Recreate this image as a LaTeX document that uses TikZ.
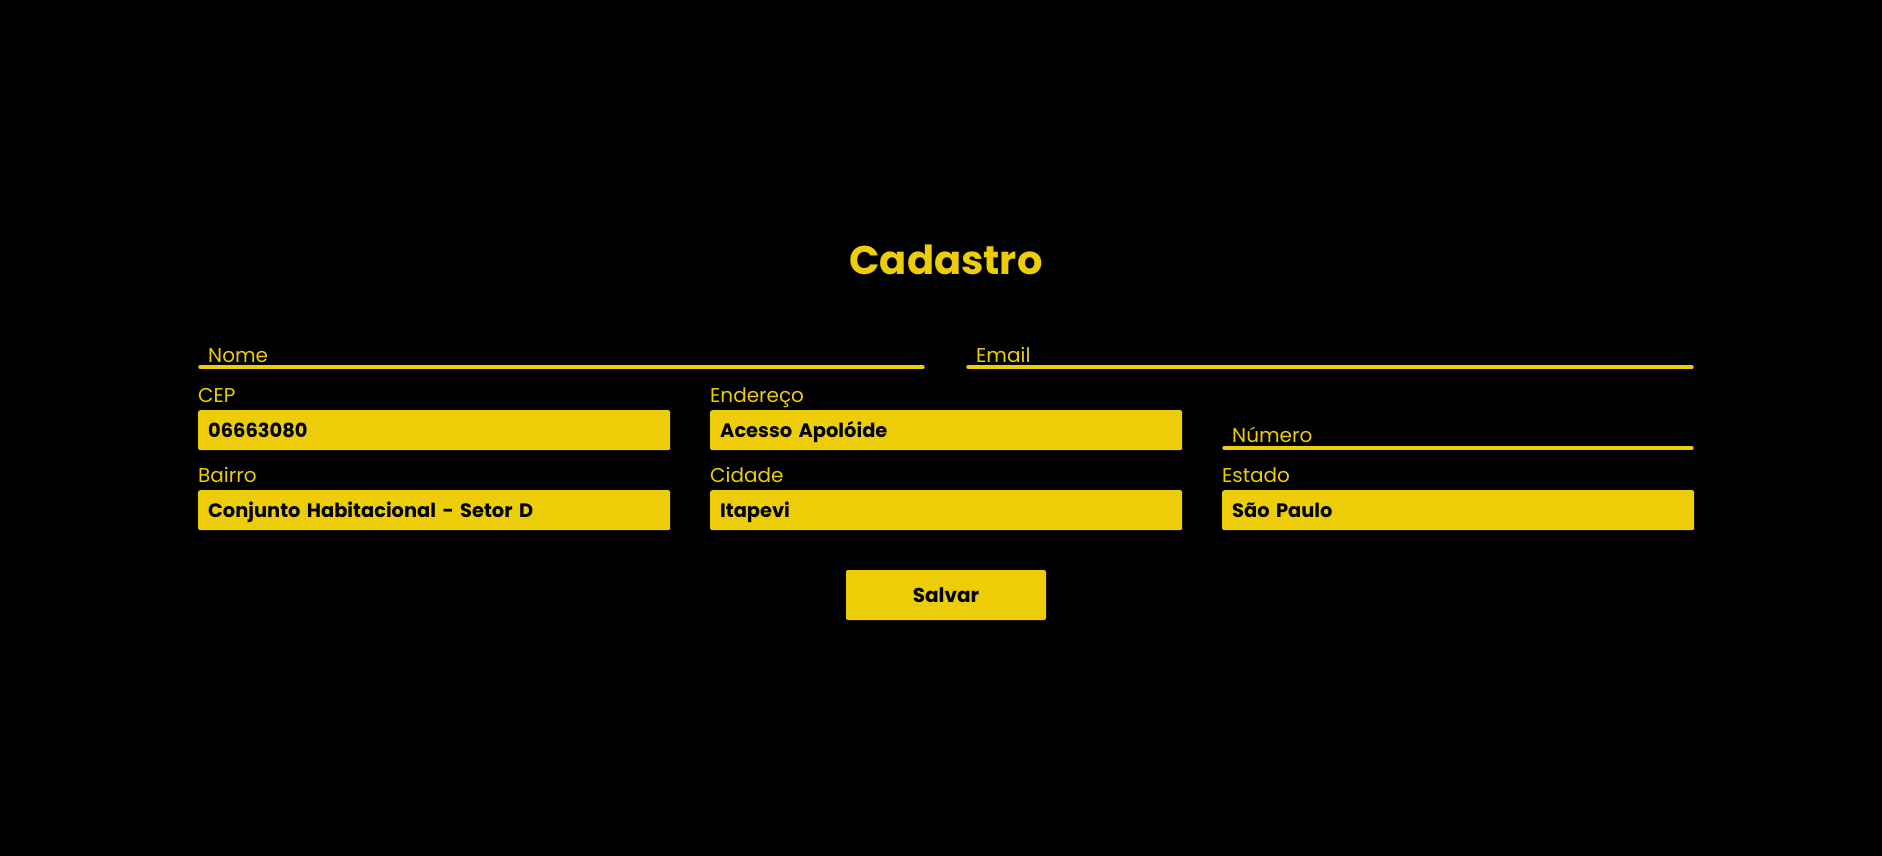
\documentclass[tikz,border=0pt]{standalone}
\usepackage{fontspec}
\setmainfont{Poppins}
\definecolor{amarelo}{RGB}{236,205,8}
\begin{document}
\begin{tikzpicture}[x=1pt,y=-1pt]
        \tikzstyle{rotulo}=[text=amarelo, anchor=base west, inner sep=0pt, font=\fontsize{20}{24}\selectfont]
        \tikzstyle{campo}=[fill=amarelo, rounded corners=2pt, anchor=north west, inner xsep=10pt, inner ysep=0pt, minimum height=40pt, text width=452pt, text height=14pt, text depth=0pt, font=\fontsize{19.4}{24}\selectfont\bfseries]
        \tikzstyle{linha}=[draw=amarelo, line width=3.4pt, line cap=round]
        \fill[black] (0,0) rectangle (1882,856);
        \node[text=amarelo, anchor=base, font=\fontsize{40}{48}\selectfont\bfseries] (titulo) at (946,274) {Cadastro};
        % primeira linha: campos sublinhados
        \node[rotulo] (nome) at (208,362) {Nome};
        \coordinate (nomeA) at (200,367); \coordinate (nomeB) at (923,367);
        \draw[linha] (nomeA) -- (nomeB);
        \node[rotulo] (email) at (976,362) {Email};
        \coordinate (emailA) at (968,367); \coordinate (emailB) at (1692,367);
        \draw[linha] (emailA) -- (emailB);
        % endereco
        \node[rotulo] (lcep) at (198,402) {CEP};
        \node[campo] (cep) at (198,410) {06663080};
        \node[rotulo] (lendereco) at (710,402) {Endereço};
        \node[campo] (endereco) at (710,410) {Acesso Apolóide};
        \node[rotulo] (numero) at (1232,442) {Número};
        \coordinate (numeroA) at (1224,448); \coordinate (numeroB) at (1692,448);
        \draw[linha] (numeroA) -- (numeroB);
        \node[rotulo] (lbairro) at (198,482) {Bairro};
        \node[campo] (bairro) at (198,490) {Conjunto Habitacional - Setor D};
        \node[rotulo] (lcidade) at (710,482) {Cidade};
        \node[campo] (cidade) at (710,490) {Itapevi};
        \node[rotulo] (lestado) at (1222,482) {Estado};
        \node[campo] (estado) at (1222,490) {São Paulo};
        \node[fill=amarelo, rounded corners=2pt, minimum width=200pt, minimum height=50pt, text height=14pt, text depth=0pt, font=\fontsize{20}{24}\selectfont\bfseries] (salvar) at (946,595) {Salvar};
    \end{tikzpicture}
\end{document}
